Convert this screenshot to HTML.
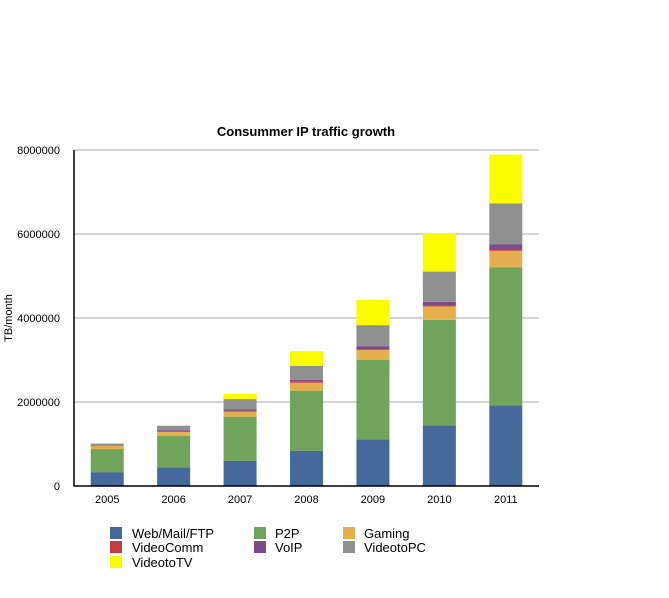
<!DOCTYPE html>
<html><head><meta charset="utf-8"><style>
body{margin:0;background:#fff;font-family:"Liberation Sans",Arial,sans-serif;}
svg text{font-family:"Liberation Sans",Arial,sans-serif;}
</style></head><body>
<svg id="c" width="669" height="593" viewBox="0 0 669 593">
<text x="306" y="136" text-anchor="middle" font-size="13" font-weight="bold">Consummer IP traffic growth</text>
<text transform="translate(12,318) rotate(-90)" text-anchor="middle" font-size="11">TB/month</text>
<g id="grid"></g><g id="bars"></g><g id="axes"></g><g id="legend"></g>
</svg>
<script>
const categories=["2005","2006","2007","2008","2009","2010","2011"];
const seriesNames=["Web/Mail/FTP","P2P","Gaming","VideoComm","VoIP","VideotoPC","VideotoTV"];
const web=[330000,445000,600000,840000,1110000,1445000,1920000];
const p2p=[550000,745000,1050000,1430000,1890000,2510000,3290000];
const gaming=[70000,100000,120000,190000,240000,320000,390000];
const videoComm=[10000,20000,20000,20000,20000,20000,30000];
const voip=[10000,20000,40000,50000,70000,90000,120000];
const videoPC=[40000,100000,240000,330000,500000,720000,980000];
const videoTV=[0,20000,120000,350000,600000,900000,1160000];
const yTicks=[0,2000000,4000000,6000000,8000000];
const colors=["#46699c","#70a45a","#e6af4d","#c63d3d","#7f4a8a","#8f918f","#fbfc00"];
const series=[web,p2p,gaming,videoComm,voip,videoPC,videoTV];
const NS="http://www.w3.org/2000/svg";
const x0=74,x1=539,yB=486,yT=150,yMax=8000000;
const band=(x1-x0)/categories.length;
const Y=v=>yB-(v/yMax)*(yB-yT);
const X=i=>x0+band*(i+0.5);
function mk(t,a,p){const e=document.createElementNS(NS,t);for(const k in a)e.setAttribute(k,a[k]);document.getElementById(p).appendChild(e);return e;}
yTicks.forEach(t=>{
 if(t>0){const l=mk("line",{x1:x0,x2:x1,y1:Y(t),y2:Y(t),stroke:"#a8a8a8","stroke-width":1},"grid");
 
 }
 const tx=mk("text",{x:60,y:Y(t)+4,"text-anchor":"end","font-size":11},"axes");tx.textContent=t;
 
 
});
categories.forEach((c,i)=>{
 let acc=0;
 series.forEach((s,k)=>{
  const v=s[i];if(v<=0)return;
  const r=mk("rect",{x:X(i)-16.5,y:Y(acc+v),width:33,height:Y(acc)-Y(acc+v),fill:colors[k]},"bars");
  
  
  acc+=v;
 });
 const tx=mk("text",{x:X(i),y:503,"text-anchor":"middle","font-size":11},"axes");tx.textContent=c;
 
 
});
const ax=mk("path",{d:`M${x0} ${yT}V${yB}H${x1}`,fill:"none",stroke:"#000","stroke-width":1.5},"axes");


const lx=[110,254,343],ly=[527,541,556],tx=[132,275,364];
seriesNames.forEach((n,k)=>{
 const col=k%3,row=Math.floor(k/3);
 const g=mk("g",{},"legend");
 
 
 const r=document.createElementNS(NS,"rect");
 r.setAttribute("x",lx[col]);r.setAttribute("y",ly[row]);r.setAttribute("width",12);r.setAttribute("height",12);r.setAttribute("fill",colors[k]);
 g.appendChild(r);
 const t=document.createElementNS(NS,"text");
 t.setAttribute("x",tx[col]);t.setAttribute("y",ly[row]+11);t.setAttribute("font-size",13);t.textContent=n;
 g.appendChild(t);
});
</script>
</body></html>
